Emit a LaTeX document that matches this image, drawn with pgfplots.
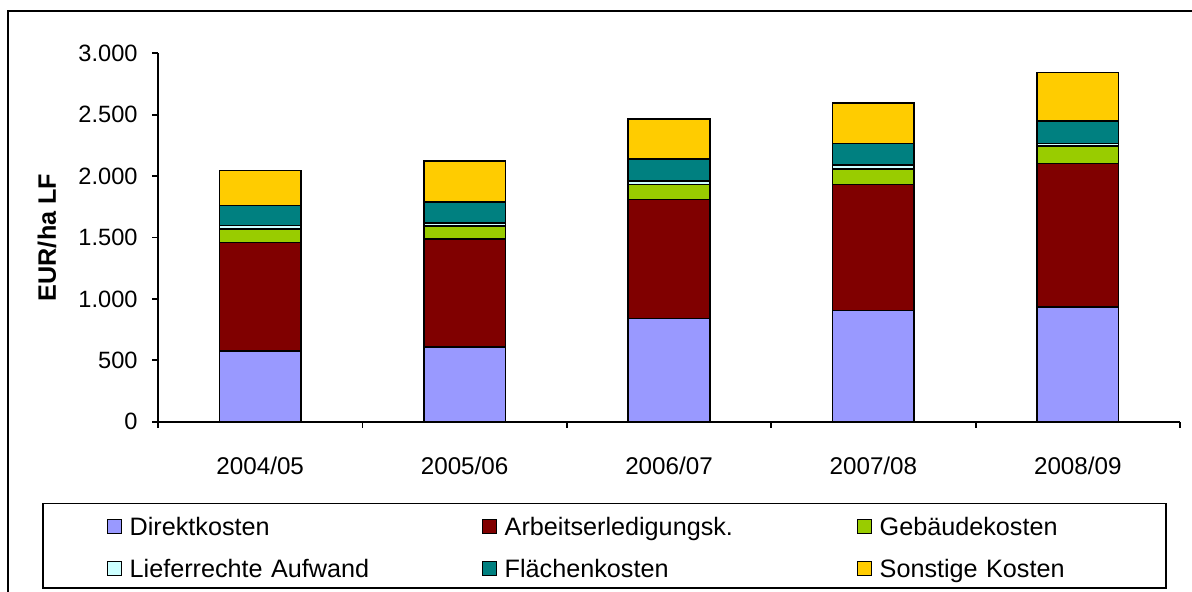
\documentclass[border=0pt]{standalone}
\usepackage{fontspec}
\setmainfont{Liberation Sans}
\usepackage{pgfplots}
\pgfplotsset{compat=1.18}
\definecolor{cDir}{HTML}{9999FF}
\definecolor{cArb}{HTML}{800000}
\definecolor{cGeb}{HTML}{99CC00}
\definecolor{cLie}{HTML}{CCFFFF}
\definecolor{cFla}{HTML}{008080}
\definecolor{cSon}{HTML}{FFCC00}
\pgfplotsset{
  legsq/.style={legend image code/.code={\draw[##1,line width=0.5pt] (0.25pt,-3.5pt) rectangle (7.25pt,3.5pt);}},
}
\newcommand{\chfont}{\fontsize{11.8}{13}\selectfont}
\newcommand{\xfont}{\fontsize{12.1}{13}\selectfont}
\newcommand{\lgfont}{\fontsize{12.6}{14}\selectfont}
\begin{document}
\begin{tikzpicture}
\useasboundingbox (0,0) rectangle (596pt,-296pt);
\draw[line width=1pt] (4.2pt,-300pt) -- (4.2pt,-5.3pt) -- (600pt,-5.3pt);
\draw[line width=0.8pt] (21.6pt,-251.7pt) rectangle (583pt,-294pt);
\begin{axis}[
  at={(79pt,-210.85pt)}, anchor=south west,
  width=511pt, height=184.2pt, scale only axis,
  xmin=-0.5, xmax=4.5, ymin=0, ymax=3000,
  axis x line*=bottom, axis y line*=left,
  axis line style={-, line width=0.9pt},
  ybar stacked, bar width=0.4,
  xtick={0,1,2,3,4},
  xticklabels={2004/05,2005/06,2006/07,2007/08,2008/09},
  major x tick style={draw=none},
  minor xtick={-0.5,0.5,1.5,2.5,3.5,4.5},
  ytick={0,500,1000,1500,2000,2500,3000},
  tick align=outside, major tick length=3pt, minor tick length=3pt,
  every tick/.style={black, line width=0.9pt},
  yticklabel style={font=\chfont},
  /pgf/number format/1000 sep={.},
  /pgf/number format/assume math mode=true,
  yticklabel style={xshift=-3.7pt},
  xticklabel style={yshift=-11pt, font=\xfont},
  ylabel={\textbf{EUR/ha LF}},
  ylabel style={at={(axis description cs:-0.1086,0.5)}, anchor=center, font=\lgfont},
  legend columns=3,
  legend cell align=left,
  legend style={at={(axis description cs:-0.0502,-0.2598)}, anchor=north west,
    draw=none, fill=none, inner sep=0pt, outer sep=0pt, font=\lgfont,
    nodes={font=\lgfont, text width=176pt, inner xsep=0pt, inner ysep=0pt, text height=9pt, text depth=0pt},
    row sep=11.85pt,
    /tikz/column sep=0pt,
    /tikz/every odd column/.style={column sep=4pt}},
  every axis plot/.append style={draw=black, line width=0.8pt},
]
\addplot[fill=cDir, legsq] coordinates {(0,576) (1,606) (2,842) (3,904) (4,936)};
\addplot[fill=cArb, legsq] coordinates {(0,882) (1,884) (2,966) (3,1026) (4,1168)};
\addplot[fill=cGeb, legsq] coordinates {(0,111) (1,106) (2,122) (3,128) (4,141)};
\addplot[fill=cLie, legsq] coordinates {(0,30) (1,20) (2,32) (3,32) (4,20)};
\addplot[fill=cFla, legsq] coordinates {(0,160) (1,175) (2,175) (3,174) (4,186)};
\addplot[fill=cSon, legsq] coordinates {(0,285) (1,330) (2,330) (3,331) (4,394)};
\legend{Direktkosten, Arbeitserledigungsk., Gebäudekosten, Lieferrechte Aufwand, Flächenkosten, Sonstige Kosten}
\end{axis}
\end{tikzpicture}
\end{document}
